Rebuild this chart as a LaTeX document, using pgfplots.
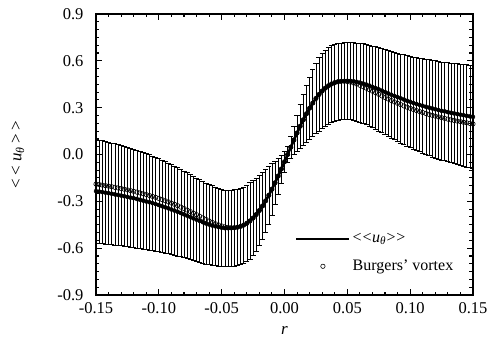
\documentclass[border=0pt]{standalone}
\usepackage{fontspec}
\setmainfont{Liberation Serif}
\usepackage{pgfplots}
\pgfplotsset{compat=1.18}
\usepackage{pgfplotstable}
\pgfplotstableread{
x m e b
-0.1500 -0.2345 0.334 -0.1895
-0.1475 -0.2377 0.332 -0.1927
-0.1450 -0.2409 0.330 -0.1959
-0.1425 -0.2443 0.329 -0.1993
-0.1400 -0.2478 0.327 -0.2028
-0.1375 -0.2514 0.326 -0.2064
-0.1350 -0.2552 0.324 -0.2102
-0.1325 -0.2591 0.323 -0.2141
-0.1300 -0.2631 0.321 -0.2181
-0.1275 -0.2673 0.320 -0.2223
-0.1250 -0.2717 0.318 -0.2267
-0.1225 -0.2762 0.316 -0.2312
-0.1200 -0.2799 0.314 -0.2359
-0.1175 -0.2848 0.313 -0.2408
-0.1150 -0.2899 0.311 -0.2459
-0.1125 -0.2953 0.310 -0.2513
-0.1100 -0.3008 0.307 -0.2568
-0.1075 -0.3056 0.305 -0.2626
-0.1050 -0.3117 0.302 -0.2687
-0.1025 -0.3180 0.300 -0.2750
-0.1000 -0.3236 0.297 -0.2816
-0.0975 -0.3306 0.295 -0.2886
-0.0950 -0.3378 0.292 -0.2958
-0.0925 -0.3443 0.290 -0.3033
-0.0900 -0.3522 0.287 -0.3112
-0.0875 -0.3594 0.285 -0.3194
-0.0850 -0.3670 0.282 -0.3280
-0.0825 -0.3748 0.280 -0.3368
-0.0800 -0.3830 0.277 -0.3460
-0.0775 -0.3915 0.275 -0.3555
-0.0750 -0.4003 0.272 -0.3653
-0.0725 -0.4092 0.270 -0.3752
-0.0700 -0.4174 0.267 -0.3854
-0.0675 -0.4256 0.265 -0.3956
-0.0650 -0.4337 0.262 -0.4057
-0.0625 -0.4418 0.260 -0.4158
-0.0600 -0.4485 0.257 -0.4255
-0.0575 -0.4548 0.255 -0.4348
-0.0550 -0.4605 0.252 -0.4435
-0.0525 -0.4653 0.250 -0.4513
-0.0500 -0.4691 0.247 -0.4581
-0.0475 -0.4715 0.245 -0.4635
-0.0450 -0.4722 0.245 -0.4672
-0.0425 -0.4711 0.245 -0.4691
-0.0400 -0.4688 0.245 -0.4688
-0.0375 -0.4661 0.245 -0.4661
-0.0350 -0.4606 0.245 -0.4606
-0.0325 -0.4521 0.245 -0.4521
-0.0300 -0.4405 0.245 -0.4405
-0.0275 -0.4254 0.245 -0.4254
-0.0250 -0.4069 0.240 -0.4069
-0.0225 -0.3847 0.235 -0.3847
-0.0200 -0.3590 0.225 -0.3590
-0.0175 -0.3297 0.215 -0.3297
-0.0150 -0.2970 0.200 -0.2970
-0.0125 -0.2612 0.185 -0.2612
-0.0100 -0.2225 0.165 -0.2225
-0.0075 -0.1812 0.140 -0.1812
-0.0050 -0.1378 0.115 -0.1378
-0.0025 -0.0928 0.090 -0.0928
0.0000 -0.0467 0.070 -0.0467
0.0025 0.0000 0.050 0.0000
0.0050 0.0467 0.070 0.0467
0.0075 0.0928 0.090 0.0928
0.0100 0.1378 0.115 0.1378
0.0125 0.1812 0.140 0.1812
0.0150 0.2225 0.165 0.2225
0.0175 0.2612 0.185 0.2612
0.0200 0.2970 0.200 0.2970
0.0225 0.3297 0.215 0.3297
0.0250 0.3590 0.225 0.3590
0.0275 0.3847 0.235 0.3847
0.0300 0.4069 0.240 0.4069
0.0325 0.4254 0.245 0.4254
0.0350 0.4405 0.245 0.4405
0.0375 0.4521 0.245 0.4521
0.0400 0.4606 0.245 0.4606
0.0425 0.4661 0.245 0.4661
0.0450 0.4688 0.245 0.4688
0.0475 0.4711 0.245 0.4691
0.0500 0.4722 0.245 0.4672
0.0525 0.4715 0.245 0.4635
0.0550 0.4691 0.247 0.4581
0.0575 0.4653 0.250 0.4513
0.0600 0.4605 0.252 0.4435
0.0625 0.4548 0.255 0.4348
0.0650 0.4485 0.257 0.4255
0.0675 0.4418 0.260 0.4158
0.0700 0.4337 0.262 0.4057
0.0725 0.4256 0.265 0.3956
0.0750 0.4174 0.267 0.3854
0.0775 0.4092 0.270 0.3752
0.0800 0.4003 0.272 0.3653
0.0825 0.3915 0.275 0.3555
0.0850 0.3830 0.277 0.3460
0.0875 0.3748 0.280 0.3368
0.0900 0.3670 0.282 0.3280
0.0925 0.3594 0.285 0.3194
0.0950 0.3522 0.287 0.3112
0.0975 0.3443 0.290 0.3033
0.1000 0.3378 0.292 0.2958
0.1025 0.3306 0.295 0.2886
0.1050 0.3236 0.297 0.2816
0.1075 0.3180 0.300 0.2750
0.1100 0.3117 0.302 0.2687
0.1125 0.3056 0.305 0.2626
0.1150 0.3008 0.307 0.2568
0.1175 0.2953 0.310 0.2513
0.1200 0.2899 0.311 0.2459
0.1225 0.2848 0.313 0.2408
0.1250 0.2799 0.314 0.2359
0.1275 0.2762 0.316 0.2312
0.1300 0.2717 0.318 0.2267
0.1325 0.2673 0.320 0.2223
0.1350 0.2631 0.321 0.2181
0.1375 0.2591 0.323 0.2141
0.1400 0.2552 0.324 0.2102
0.1425 0.2514 0.326 0.2064
0.1450 0.2478 0.327 0.2028
0.1475 0.2443 0.329 0.1993
0.1500 0.2409 0.330 0.1959
}\data
\newcommand{\uthe}{<\kern0.8pt<\kern0.5pt\textit{u}\textsubscript{\textit{θ}}\kern0.5pt>\kern0.8pt>}
\newcommand{\uthelab}{<\kern3.5pt<\kern3.5pt\textit{u}\textsubscript{\textit{θ}}\kern3.5pt>\kern3.5pt>}
\begin{document}
\fontsize{16}{19}\selectfont
\begin{tikzpicture}
\begin{axis}[
  width=377pt, height=281pt, scale only axis,
  xmin=-0.15, xmax=0.15, ymin=-0.9, ymax=0.9,
  xtick={-0.15,-0.10,-0.05,0,0.05,0.10,0.15},
  xticklabels={-0.15,-0.10,-0.05,0.00,0.05,0.10,0.15},
  minor x tick num=4,
  ytick={-0.9,-0.6,-0.3,0,0.3,0.6,0.9},
  yticklabels={-0.9,-0.6,-0.3,0.0,0.3,0.6,0.9},
  minor y tick num=5,
  tick align=inside, xtick pos=both, ytick pos=both,
  major tick length=6pt, minor tick length=3.5pt,
  every tick/.style={black, line width=1.1pt},
  axis line style={black, line width=1.6pt},
  tick label style={font=\fontsize{16.5}{19}\selectfont},
  yticklabel style={xshift=-7pt},
  xticklabel style={yshift=-2pt},
  label style={font=\fontsize{17}{20}\selectfont},
  xlabel={\textit{r}},
  xlabel style={at={(axis description cs:0.5,-0.128)}, anchor=center},
  ylabel={\uthelab},
  ylabel style={at={(axis description cs:-0.207,0.5)}, anchor=center},
  legend style={draw=none, fill=none, inner sep=0pt, row sep=11pt,
    at={(axis cs:0.0083,-0.49)}, anchor=north west,
    font=\fontsize{16}{19}\selectfont},
  legend cell align=left,
  legend image code/.code={\draw[mark repeat=2,mark phase=2,#1] plot coordinates {(0pt,0pt) (26.5pt,0pt) (53pt,0pt)};},
]
\addplot[forget plot, black, only marks, mark=none,
  error bars/.cd, y dir=both, y explicit,
  error bar style={line width=0.55pt, black},
  error mark options={rotate=90, mark size=2.6pt, line width=0.55pt, black}]
  table[x=x, y=m, y error=e] {\data};
\addplot[black, line width=2.6pt, mark=none] table[x=x, y=m] {\data};
\addlegendentry{\uthe}
\addplot[black, only marks, mark=o, mark size=2.2pt, mark options={line width=0.6pt}] table[x=x, y=b] {\data};
\addlegendentry{Burgers' vortex}
\coordinate (sw) at (rel axis cs:0,0);
\coordinate (ne) at (rel axis cs:1,1);
\end{axis}
\pgfresetboundingbox
\path[use as bounding box] ([shift={(-96pt,-46pt)}]sw) rectangle ([shift={(17pt,14pt)}]ne);
\end{tikzpicture}
\end{document}
